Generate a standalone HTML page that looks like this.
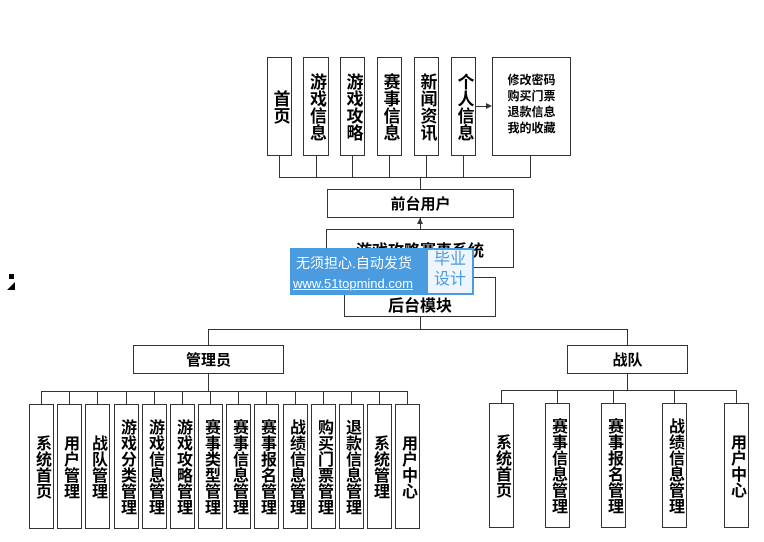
<!DOCTYPE html>
<html><head><meta charset="utf-8"><style>
body{margin:0;width:764px;height:542px;background:#fff;position:relative;overflow:hidden;font-family:"Liberation Sans","Noto Sans CJK SC",sans-serif;}
.b{position:absolute;border:1.5px solid #333;box-sizing:border-box;background:#fff;font-weight:bold;color:#000;}
.v{display:flex;align-items:center;justify-content:center;text-align:center;font-size:16px;line-height:19px;writing-mode:vertical-rl;}
.h{display:flex;align-items:center;justify-content:center;font-size:15px;}
.l{position:absolute;background:#333;}
</style></head><body>
<!-- top row -->
<div class="b v" style="left:267px;top:57px;width:25px;height:99px;font-size:17px;line-height:22px">首页</div>
<div class="b v" style="left:303px;top:57px;width:26px;height:99px;font-size:17px;line-height:22px">游戏信息</div>
<div class="b v" style="left:340px;top:57px;width:25px;height:99px;font-size:17px;line-height:22px">游戏攻略</div>
<div class="b v" style="left:377px;top:57px;width:25px;height:99px;font-size:17px;line-height:22px">赛事信息</div>
<div class="b v" style="left:414px;top:57px;width:25px;height:99px;font-size:17px;line-height:22px">新闻资讯</div>
<div class="b v" style="left:451px;top:57px;width:25px;height:99px;font-size:17px;line-height:22px">个人信息</div>
<div class="b" style="left:492px;top:57px;width:79px;height:99px;font-size:12px;line-height:16px;text-align:center;padding-top:14px">修改密码<br>购买门票<br>退款信息<br>我的收藏</div>
<div class="l" style="left:476px;top:106px;width:12px;height:1px"></div>
<div style="position:absolute;left:486px;top:103px;width:0;height:0;border-left:6px solid #333;border-top:3.5px solid transparent;border-bottom:3.5px solid transparent"></div>
<div class="l" style="left:279px;top:156px;width:1px;height:21px"></div>
<div class="l" style="left:316px;top:156px;width:1px;height:21px"></div>
<div class="l" style="left:352px;top:156px;width:1px;height:21px"></div>
<div class="l" style="left:389px;top:156px;width:1px;height:21px"></div>
<div class="l" style="left:426px;top:156px;width:1px;height:21px"></div>
<div class="l" style="left:463px;top:156px;width:1px;height:21px"></div>
<div class="l" style="left:530px;top:156px;width:1px;height:21px"></div>
<div class="l" style="left:279px;top:177px;width:252px;height:1px"></div>
<div class="l" style="left:420px;top:177px;width:1px;height:12px"></div>
<div class="b h" style="left:327px;top:189px;width:187px;height:29px">前台用户</div>
<div class="l" style="left:420px;top:218px;width:1px;height:12px"></div>
<div style="position:absolute;left:417px;top:218px;border-bottom:6px solid #333;border-left:3.5px solid transparent;border-right:3.5px solid transparent"></div>
<div class="b h" style="left:326px;top:229px;width:188px;height:39px;font-size:16px">游戏攻略赛事系统</div>
<div class="b h" style="left:344px;top:277px;width:152px;height:40px;font-size:16px;padding-top:14px">后台模块</div>
<!-- watermark -->
<div style="position:absolute;left:290px;top:248px;width:184px;height:47px;background:#4a9be0"></div>
<div style="position:absolute;left:296px;top:253px;color:#fff;font-size:14px;">无须担心.自动发货</div>
<div style="position:absolute;left:293px;top:276px;color:#fff;font-size:13px;text-decoration:underline">www.51topmind.com</div>
<div style="position:absolute;left:428px;top:250px;width:44px;height:43px;background:#eef5fc;color:#4a9be0;font-size:16px;line-height:20px;text-align:center">毕业<br>设计</div>
<div style="position:absolute;left:9px;top:274px;width:5px;height:5px;background:#000"></div>
<div style="position:absolute;left:7px;top:282px;border-bottom:8px solid #000;border-left:8px solid transparent"></div>
<!-- backend lines -->
<div class="l" style="left:420px;top:317px;width:1px;height:12px"></div>
<div class="l" style="left:208px;top:329px;width:420px;height:1px"></div>
<div class="l" style="left:208px;top:329px;width:1px;height:16px"></div>
<div class="l" style="left:627px;top:329px;width:1px;height:16px"></div>
<div class="b h" style="left:133px;top:345px;width:151px;height:29px">管理员</div>
<div class="b h" style="left:567px;top:345px;width:121px;height:29px">战队</div>
<div class="l" style="left:208px;top:374px;width:1px;height:17px"></div>
<div class="l" style="left:627px;top:374px;width:1px;height:16px"></div>
<div class="l" style="left:41px;top:391px;width:367px;height:1px"></div>
<div class="l" style="left:501px;top:390px;width:236px;height:1px"></div>
<!-- admin children -->
<div id="adm"></div>
<script>
var a=["系统首页","用户管理","战队管理","游戏分类管理","游戏信息管理","游戏攻略管理","赛事类型管理","赛事信息管理","赛事报名管理","战绩信息管理","购买门票管理","退款信息管理","系统管理","用户中心"];
var xs=[29,57,85,114,142,170,198,226,254,283,311,339,367,395],h="";
for(var i=0;i<14;i++){h+='<div class="l" style="left:'+(xs[i]+12)+'px;top:391px;width:1px;height:13px"></div><div class="b v" style="left:'+xs[i]+'px;top:404px;width:25px;height:125px">'+a[i]+'</div>';}
var b=["系统首页","赛事信息管理","赛事报名管理","战绩信息管理","用户中心"],bx=[489,545,601,662,724];
for(var i=0;i<5;i++){h+='<div class="l" style="left:'+(bx[i]+12)+'px;top:390px;width:1px;height:13px"></div><div class="b v" style="left:'+bx[i]+'px;top:403px;width:25px;height:125px">'+b[i]+'</div>';}
document.getElementById("adm").outerHTML=h;
</script>
</body></html>
